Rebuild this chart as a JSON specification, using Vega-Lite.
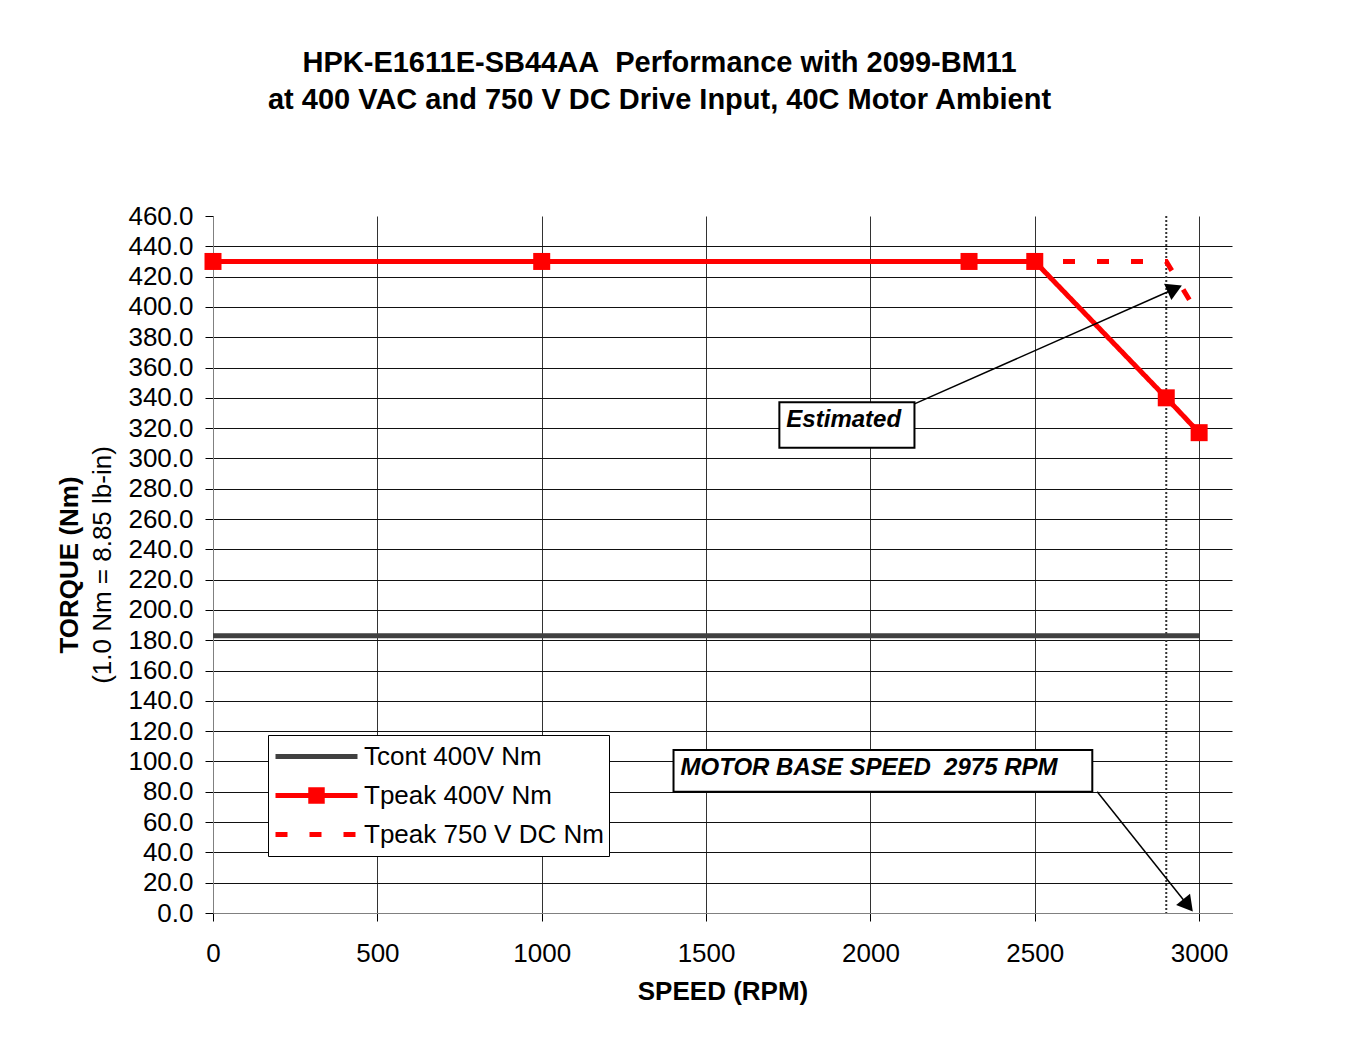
{
  "$schema": "https://vega.github.io/schema/vega-lite/v6.json",
  "width": 1019,
  "height": 697,
  "autosize": {"type": "none"},
  "padding": {"left": 213, "top": 216, "right": 130, "bottom": 151},
  "background": "white",
  "title": {
    "text": ["HPK-E1611E-SB44AA\u00a0 Performance with 2099-BM11", "at 400 VAC and 750 V DC Drive Input, 40C Motor Ambient"],
    "font": "Liberation Sans",
    "fontSize": 29,
    "fontWeight": "bold",
    "lineHeight": 37,
    "anchor": "middle",
    "frame": "group",
    "dx": -63,
    "offset": 88,
    "color": "black"
  },
  "config": {
    "view": {"stroke": null},
    "font": "Liberation Sans"
  },
  "datasets": {
    "curves": [
      {"series": "Tcont 400V Nm", "speed": 0, "torque": 183},
      {"series": "Tcont 400V Nm", "speed": 3000, "torque": 183},
      {"series": "Tpeak 400V Nm", "speed": 0, "torque": 430},
      {"series": "Tpeak 400V Nm", "speed": 1000, "torque": 430},
      {"series": "Tpeak 400V Nm", "speed": 2300, "torque": 430},
      {"series": "Tpeak 400V Nm", "speed": 2500, "torque": 430},
      {"series": "Tpeak 400V Nm", "speed": 2900, "torque": 340},
      {"series": "Tpeak 400V Nm", "speed": 3000, "torque": 317},
      {"series": "Tpeak 750 V DC Nm", "speed": 0, "torque": 430},
      {"series": "Tpeak 750 V DC Nm", "speed": 1000, "torque": 430},
      {"series": "Tpeak 750 V DC Nm", "speed": 2300, "torque": 430},
      {"series": "Tpeak 750 V DC Nm", "speed": 2500, "torque": 430},
      {"series": "Tpeak 750 V DC Nm", "speed": 2900, "torque": 430},
      {"series": "Tpeak 750 V DC Nm", "speed": 3000, "torque": 394}
    ],
    "baseline": [{"speed": 2900}],
    "arrows": [
      {"arrow": "est", "speed": 2134, "torque": 336, "speed2": 2926, "torque2": 412},
      {"arrow": "base", "speed": 2690, "torque": 80, "speed2": 2966, "torque2": 5}
    ],
    "boxes": [
      {"label": "Estimated", "speed": 1723, "speed2": 2134, "torque": 337, "torque2": 307},
      {"label": "MOTOR BASE SPEED\u00a0 2975 RPM", "speed": 1401, "speed2": 2675, "torque": 107.5, "torque2": 80}
    ]
  },
  "resolve": {"axis": {"x": "independent", "y": "independent"}},
  "layer": [
    {
      "data": {"name": "baseline"},
      "mark": {"type": "rule", "color": "#333333", "strokeWidth": 2, "strokeDash": [2, 2]},
      "encoding": {
        "x": {"field": "speed", "type": "quantitative", "scale": {"domain": [0, 3100], "nice": false, "zero": false}, "axis": null}
      }
    },
    {
      "data": {"name": "curves"},
      "mark": {"type": "line", "strokeWidth": 5},
      "encoding": {
        "x": {
          "field": "speed", "type": "quantitative",
          "scale": {"domain": [0, 3100], "nice": false, "zero": false},
          "axis": {
            "values": [0, 500, 1000, 1500, 2000, 2500, 3000],
            "format": "d",
            "labelFont": "Liberation Sans", "labelFontSize": 26, "labelColor": "black",
            "labelPadding": 19, "labelFlush": false, "labelOverlap": false,
            "tickSize": 8, "tickColor": "black",
            "domainColor": "#808080", "domainWidth": 1,
            "grid": true, "gridColor": "#333333", "gridWidth": 1,
            "title": "SPEED (RPM)", "titleFont": "Liberation Sans", "titleFontSize": 26, "titleFontWeight": "bold", "titleColor": "black",
            "titleY": 65, "titleBaseline": "top"
          }
        },
        "y": {
          "field": "torque", "type": "quantitative",
          "scale": {"domain": [0, 460], "nice": false, "zero": false},
          "axis": {
            "values": [0, 20, 40, 60, 80, 100, 120, 140, 160, 180, 200, 220, 240, 260, 280, 300, 320, 340, 360, 380, 400, 420, 440, 460],
            "format": ".1f",
            "labelFont": "Liberation Sans", "labelFontSize": 26, "labelColor": "black",
            "labelPadding": 12, "labelFlush": false, "labelOverlap": false,
            "tickSize": 8, "tickColor": "black",
            "domainColor": "#808080", "domainWidth": 1,
            "grid": true, "gridColor": "#111111", "gridWidth": 1,
            "gridOpacity": {"condition": {"test": "datum.value >= 460", "value": 0}, "value": 1},
            "title": "(1.0 Nm = 8.85 lb-in)", "titleFont": "Liberation Sans", "titleFontSize": 26, "titleFontWeight": "normal", "titleColor": "black",
            "titleX": -110.5, "titleY": 348.5, "titleBaseline": "middle", "titleAngle": 270
          }
        },
        "color": {
          "field": "series", "type": "nominal",
          "scale": {"domain": ["Tcont 400V Nm", "Tpeak 400V Nm", "Tpeak 750 V DC Nm"], "range": ["#404040", "#ff0000", "#ff0000"]},
          "legend": {
            "title": null,
            "orient": "none",
            "legendX": 55,
            "legendY": 519,
            "symbolType": "stroke",
            "symbolSize": 6724,
            "symbolStrokeWidth": 5,
            "clipHeight": 33,
            "rowPadding": 6,
            "padding": 5,
            "labelFont": "Liberation Sans",
            "labelFontSize": 26,
            "labelColor": "black",
            "labelOffset": 4,
            "labelLimit": 500,
            "strokeColor": "black",
            "fillColor": "white",
            "encode": {
              "symbols": {
                "update": {
                  "shape": {"signal": "datum.value === 'Tpeak 400V Nm' ? 'M-1,0H1M-0.14,-0.14H0.14V0.14H-0.14Z' : 'stroke'"},
                  "fill": {"signal": "datum.value === 'Tpeak 400V Nm' ? '#ff0000' : 'transparent'"}
                }
              }
            }
          }
        },
        "strokeDash": {
          "field": "series", "type": "nominal",
          "scale": {"domain": ["Tcont 400V Nm", "Tpeak 400V Nm", "Tpeak 750 V DC Nm"], "range": [[1, 0], [1, 0], [12, 22]]}
        }
      }
    },
    {
      "data": {"name": "curves"},
      "transform": [{"filter": "datum.series === 'Tpeak 400V Nm'"}],
      "mark": {"type": "point", "shape": "square", "filled": true, "size": 289, "color": "#ff0000", "opacity": 1},
      "encoding": {
        "x": {"field": "speed", "type": "quantitative", "scale": {"domain": [0, 3100], "nice": false, "zero": false}, "axis": null},
        "y": {"field": "torque", "type": "quantitative", "scale": {"domain": [0, 460], "nice": false, "zero": false}, "axis": null}
      }
    },
    {
      "data": {"name": "arrows"},
      "mark": {"type": "rule", "color": "black", "strokeWidth": 1.5},
      "encoding": {
        "x": {"field": "speed", "type": "quantitative", "scale": {"domain": [0, 3100], "nice": false, "zero": false}, "axis": null},
        "y": {
          "field": "torque", "type": "quantitative", "scale": {"domain": [0, 460], "nice": false, "zero": false},
          "axis": {
            "orient": "left", "labels": false, "ticks": false, "domain": false, "grid": false,
            "title": "TORQUE (Nm)", "titleFont": "Liberation Sans", "titleFontSize": 26, "titleFontWeight": "bold", "titleColor": "black",
            "titleX": -143.5, "titleY": 348.5, "titleBaseline": "middle", "titleAngle": 270
          }
        },
        "x2": {"field": "speed2"},
        "y2": {"field": "torque2"}
      }
    },
    {
      "data": {"name": "arrows"},
      "mark": {"type": "point", "shape": "triangle-up", "filled": true, "size": 320, "color": "black", "opacity": 1},
      "encoding": {
        "x": {"field": "speed2", "type": "quantitative", "scale": {"domain": [0, 3100], "nice": false, "zero": false}, "axis": null},
        "y": {"field": "torque2", "type": "quantitative", "scale": {"domain": [0, 460], "nice": false, "zero": false}, "axis": null},
        "angle": {"field": "arrow", "type": "nominal", "scale": {"domain": ["est", "base"], "range": [66, 141]}, "legend": null}
      }
    },
    {
      "data": {"name": "boxes"},
      "mark": {"type": "rect", "fill": "white", "stroke": "black", "strokeWidth": 2},
      "encoding": {
        "x": {"field": "speed", "type": "quantitative", "scale": {"domain": [0, 3100], "nice": false, "zero": false}, "axis": null},
        "x2": {"field": "speed2"},
        "y": {"field": "torque", "type": "quantitative", "scale": {"domain": [0, 460], "nice": false, "zero": false}, "axis": null},
        "y2": {"field": "torque2"}
      }
    },
    {
      "data": {"name": "boxes"},
      "mark": {"type": "text", "align": "left", "baseline": "top", "dx": 7, "dy": 6, "font": "Liberation Sans", "fontSize": 24, "fontWeight": "bold", "fontStyle": "italic", "color": "black"},
      "encoding": {
        "x": {"field": "speed", "type": "quantitative", "scale": {"domain": [0, 3100], "nice": false, "zero": false}, "axis": null},
        "y": {"field": "torque", "type": "quantitative", "scale": {"domain": [0, 460], "nice": false, "zero": false}, "axis": null},
        "text": {"field": "label"}
      }
    }
  ]
}
